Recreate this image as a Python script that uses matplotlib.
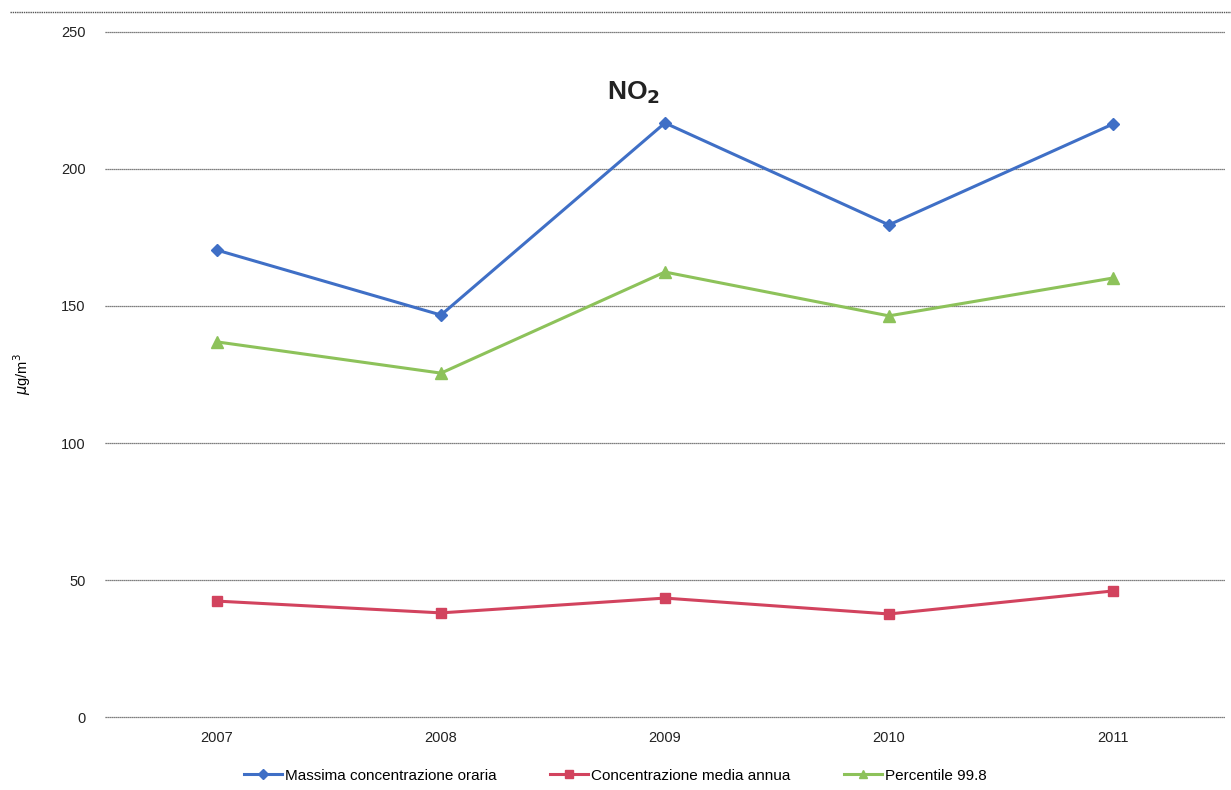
import matplotlib
matplotlib.use("Agg")
import matplotlib.pyplot as plt
from matplotlib.lines import Line2D

years = ["2007", "2008", "2009", "2010", "2011"]
massima = [170.4, 146.7, 216.8, 179.6, 216.4]
media = [42.3, 38.0, 43.4, 37.6, 46.0]
percentile = [136.9, 125.5, 162.4, 146.4, 160.2]
yticks = [0, 50, 100, 150, 200, 250]

plt.rcParams['font.family'] = ['Liberation Sans', 'DejaVu Sans']

fig = plt.figure(figsize=(12.31, 7.9), dpi=100)
ax = fig.add_axes([0.0853, 0.0924, 0.9097, 0.8671])

x = list(range(len(years)))
ax.plot(x, massima, color='#3F6FC6', lw=2.2, marker='D', ms=6, label='Massima concentrazione oraria')
ax.plot(x, media, color='#D2435E', lw=2.2, marker='s', ms=7, label='Concentrazione media annua')
ax.plot(x, percentile, color='#8DC25A', lw=2.2, marker='^', ms=8, label='Percentile 99.8')

ax.set_xlim(-0.5, len(years) - 0.5)
ax.set_ylim(0, 250)
ax.set_yticks(yticks)
ax.set_xticks(x)
ax.set_xticklabels(years)
ax.tick_params(axis='both', length=0, labelsize=10.5, colors='#222222')
ax.tick_params(axis='y', pad=14)
ax.tick_params(axis='x', pad=10)
ax.yaxis.grid(False)
for t in yticks:
    ax.axhline(t, color='#555555', lw=0.9, ls=(0, (1, 0.6)), zorder=0, clip_on=False)
for s in ax.spines.values():
    s.set_visible(False)

ax.set_ylabel(r'$\mu$g/m$^3$', fontsize=10.5, labelpad=20)

ax.text(2 - 0.14, 228, r'NO$_\mathbf{2}$', fontsize=19, fontweight='bold', ha='center', va='center', color='#222222')

fig.legend(loc='lower center', bbox_to_anchor=(0.5, -0.008), ncol=3, frameon=False,
           fontsize=11, handlelength=2.5, columnspacing=3.5, handletextpad=0.2,
           markerscale=0.8)

fig.add_artist(Line2D([0.008, 1.0], [1 - 12/790, 1 - 12/790], transform=fig.transFigure,
                      color='#555555', lw=1.0, ls=(0, (1, 0.6))))

fig.savefig('out.png', dpi=100)
